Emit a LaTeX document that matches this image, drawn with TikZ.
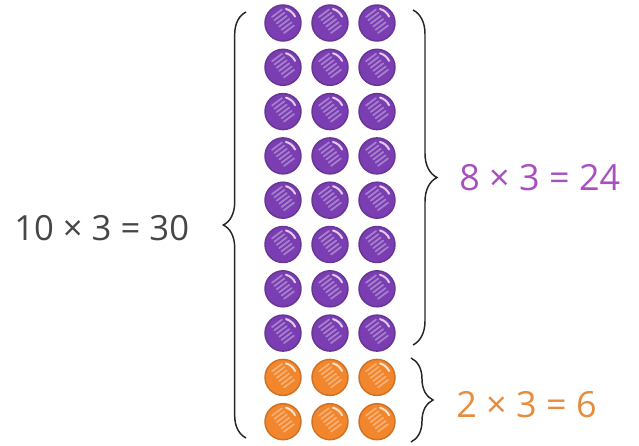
\documentclass[tikz,border=0pt]{standalone}
\usepackage{fontspec}
\setmainfont{Open Sans}
\usetikzlibrary{decorations.pathreplacing,positioning}

\definecolor{grape}{RGB}{122,62,178}
\definecolor{grapetext}{RGB}{168,80,192}
\definecolor{tangerine}{RGB}{242,134,44}
\definecolor{tangtext}{RGB}{230,140,62}
\definecolor{inkgray}{RGB}{70,70,70}

\begin{document}
\begin{tikzpicture}[
  x=0.75pt, y=0.75pt,
  eqn/.style={font=\fontsize{27}{27}\selectfont, inner sep=0pt, anchor=west},
  dot/.style={circle, minimum size=27pt, inner sep=0pt, fill=#1, draw=#1!85!black, line width=1.1pt,
              path picture={
                \foreach \k in {-10,-6,...,10}
                  \draw[white, opacity=.35, line width=1.3pt, line cap=round, shift={(path picture bounding box.center)}]
                    ({-5-0.6*\k},{-2+0.8*\k}) -- ++(10,7.5);
                \draw[white, opacity=.75, line width=1.5pt, line cap=round, shift={(path picture bounding box.center)}]
                  (3,14) arc (75:25:14);
              }},
  brc/.style={decorate, decoration={brace, amplitude=#1, aspect=0.5}, line width=1.1pt, draw=black!85},
]

\useasboundingbox (0,0) rectangle (639,446);

\def\colx{236}  \def\colstep{47}
\def\rowy{423}  \def\rowstep{44.3}

% the ten rows of three
\foreach \r in {1,...,8}
  \foreach \c in {1,2,3}
    \node[dot=grape] (b\r\c) at ({\colx+\c*\colstep},{\rowy-(\r-1)*\rowstep}) {};
\foreach \r in {9,10}
  \foreach \c in {1,2,3}
    \node[dot=tangerine] (b\r\c) at ({\colx+\c*\colstep},{\rowy-(\r-1)*\rowstep}) {};

% brace ends
\coordinate (lbtop) at (246,434);  \coordinate (lbbot) at (246,8);
\coordinate (pbtop) at (413,436);  \coordinate (pbbot) at (413,101);
\coordinate (obtop) at (411,88);   \coordinate (obbot) at (411,4);

% braces
\draw[brc=17pt] (lbbot) -- (lbtop);
\draw[brc=18pt] (pbtop) -- (pbbot);
\draw[brc=16.5pt] (obtop) -- (obbot);

% equations
\node[eqn, text=inkgray, font=\fontsize{26}{26}\selectfont] (alleq) at (14,218) {10 × 3 = 30};
\node[eqn, text=grapetext] (purpleeq) at (459,268) {8 × 3 = 24};
\node[eqn, text=tangtext] (orangeeq) at (456,41) {2 × 3 = 6};

\end{tikzpicture}
\end{document}
